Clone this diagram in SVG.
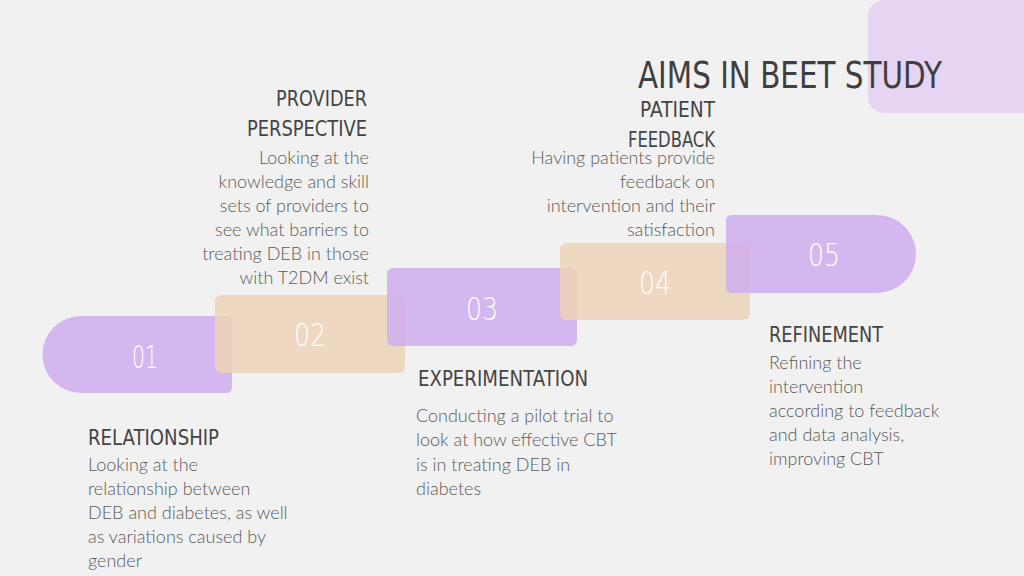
<svg xmlns="http://www.w3.org/2000/svg" width="1024" height="576" viewBox="0 0 1024 576">
<style>
.p{fill:#d2b0ee;opacity:0.9}
.o{fill:#edd3b8;opacity:0.85}
.n{font-family:"DejaVu Sans",sans-serif;font-size:32px;fill:#ffffff;text-anchor:middle;font-weight:300}
.h{font-family:"DejaVu Sans",sans-serif;font-size:22px;fill:#444444}
.b{font-family:Lato,"Liberation Sans",sans-serif;font-size:18px;fill:#5a5a5a;font-weight:300}
.r{text-anchor:end}
</style>
<rect width="1024" height="576" fill="#f1f1f1"/>
<rect x="868" y="0" width="180" height="113" rx="16" fill="#e6d4f3"/>
<text x="638" y="88" class="h" style="font-size:37px;fill:#3f3f3f" textLength="304" lengthAdjust="spacingAndGlyphs">AIMS IN BEET STUDY</text>
<g id="node01"><path class="p" d="M81,316 H226 Q232,316 232,322 V387 Q232,393 226,393 H81 A38.5,38.5 0 0 1 81,316 Z"/><text x="145" y="368" class="n" textLength="26" lengthAdjust="spacingAndGlyphs">01</text></g>
<g id="node02"><rect class="o" x="215" y="295" width="190" height="78" rx="6"/><text x="310" y="346" class="n" textLength="32" lengthAdjust="spacingAndGlyphs">02</text></g>
<g id="node03"><rect class="p" x="387" y="268" width="190" height="78" rx="6"/><text x="482" y="320" class="n" textLength="32" lengthAdjust="spacingAndGlyphs">03</text></g>
<g id="node04"><rect class="o" x="560" y="243" width="190" height="77" rx="6"/><text x="655" y="294" class="n" textLength="32" lengthAdjust="spacingAndGlyphs">04</text></g>
<g id="node05"><path class="p" d="M732,215 H877 A39,39 0 0 1 877,293 H732 Q726,293 726,287 V221 Q726,215 732,215 Z"/><text x="824" y="266" class="n" textLength="32" lengthAdjust="spacingAndGlyphs">05</text></g>
<g id="connectors"></g>
<g id="label01">
<text x="88" y="445" class="h" textLength="131" lengthAdjust="spacingAndGlyphs">RELATIONSHIP</text>
<text class="b"><tspan x="88" y="471">Looking at the</tspan><tspan x="88" y="495">relationship between</tspan><tspan x="88" y="519">DEB and diabetes, as well</tspan><tspan x="88" y="543">as variations caused by</tspan><tspan x="88" y="567">gender</tspan></text>
</g>
<g id="label02">
<text x="276" y="106" class="h" textLength="91" lengthAdjust="spacingAndGlyphs">PROVIDER</text>
<text x="247" y="136" class="h" textLength="120" lengthAdjust="spacingAndGlyphs">PERSPECTIVE</text>
<text class="b r"><tspan x="369" y="164">Looking at the</tspan><tspan x="369" y="188">knowledge and skill</tspan><tspan x="369" y="212">sets of providers to</tspan><tspan x="369" y="236">see what barriers to</tspan><tspan x="369" y="260">treating DEB in those</tspan><tspan x="369" y="284">with T2DM exist</tspan></text>
</g>
<g id="label03">
<text x="418" y="386" class="h" textLength="170" lengthAdjust="spacingAndGlyphs">EXPERIMENTATION</text>
<text class="b"><tspan x="416" y="422">Conducting a pilot trial to</tspan><tspan x="416" y="446">look at how effective CBT</tspan><tspan x="416" y="471">is in treating DEB in</tspan><tspan x="416" y="495">diabetes</tspan></text>
</g>
<g id="label04">
<text x="640" y="117" class="h" textLength="75" lengthAdjust="spacingAndGlyphs">PATIENT</text>
<text x="628" y="147" class="h" textLength="87" lengthAdjust="spacingAndGlyphs">FEEDBACK</text>
<text class="b r"><tspan x="715" y="164">Having patients provide</tspan><tspan x="715" y="188">feedback on</tspan><tspan x="715" y="212">intervention and their</tspan><tspan x="715" y="236">satisfaction</tspan></text>
</g>
<g id="label05">
<text x="769" y="342" class="h" textLength="114" lengthAdjust="spacingAndGlyphs">REFINEMENT</text>
<text class="b"><tspan x="769" y="369">Refining the</tspan><tspan x="769" y="393">intervention</tspan><tspan x="769" y="417">according to feedback</tspan><tspan x="769" y="441">and data analysis,</tspan><tspan x="769" y="465">improving CBT</tspan></text>
</g>
</svg>
